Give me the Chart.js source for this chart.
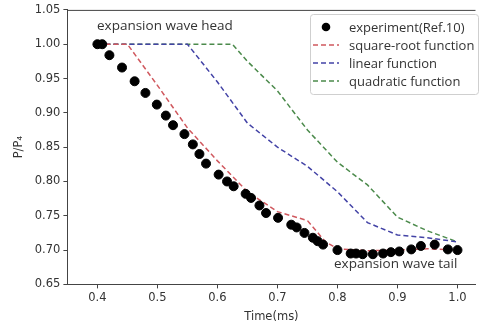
<!DOCTYPE html>
<html>
<head>
<meta charset="utf-8">
<script src="https://cdn.jsdelivr.net/npm/chart.js@4.4.0/dist/chart.umd.min.js"></script>
<style>
  html, body { margin: 0; padding: 0; background: #fff; }
  #wrap { width: 481px; height: 326px; }
</style>
</head>
<body>
<div id="wrap"><canvas id="canvas" width="481" height="326"></canvas></div>
<script>
'use strict';

// experiment(Ref.10)
let expTime = [0.400, 0.408, 0.420, 0.441, 0.462, 0.480, 0.499, 0.514, 0.526, 0.545,
  0.559, 0.570, 0.581, 0.602, 0.616, 0.627, 0.647, 0.656, 0.670, 0.681,
  0.701, 0.723, 0.732, 0.745, 0.759, 0.767, 0.776, 0.800, 0.822, 0.831,
  0.842, 0.859, 0.876, 0.889, 0.903, 0.923, 0.939, 0.962, 0.984, 1.000];
let expP = [1.000, 1.000, 0.984, 0.966, 0.946, 0.929, 0.912, 0.896, 0.882, 0.869,
  0.854, 0.840, 0.826, 0.810, 0.800, 0.793, 0.782, 0.776, 0.765, 0.754,
  0.747, 0.737, 0.733, 0.725, 0.718, 0.713, 0.708, 0.700, 0.695, 0.695,
  0.694, 0.694, 0.695, 0.697, 0.698, 0.701, 0.706, 0.708, 0.701, 0.700];

// square-root function
let sqrtTime = [0.40, 0.45, 0.50, 0.55, 0.60, 0.65, 0.70, 0.75, 0.78, 0.80, 0.85, 0.90, 0.95, 1.00];
let sqrtP = [1.000, 1.000, 0.940, 0.878, 0.830, 0.785, 0.756, 0.743, 0.712, 0.702, 0.699, 0.700, 0.702, 0.700];

// linear function
let linTime = [0.40, 0.55, 0.60, 0.65, 0.70, 0.75, 0.80, 0.85, 0.90, 0.95, 1.00];
let linP = [1.000, 1.000, 0.945, 0.885, 0.850, 0.822, 0.785, 0.740, 0.722, 0.718, 0.712];

// quadratic function
let quadTime = [0.40, 0.625, 0.65, 0.70, 0.75, 0.80, 0.85, 0.90, 0.95, 1.00];
let quadP = [1.000, 1.000, 0.975, 0.932, 0.875, 0.828, 0.795, 0.748, 0.728, 0.712];

let xTicks = [0.4, 0.5, 0.6, 0.7, 0.8, 0.9, 1.0];
let yTicks = [0.65, 0.70, 0.75, 0.80, 0.85, 0.90, 0.95, 1.00, 1.05];

let seriesNames = ['experiment(Ref.10)', 'square-root function', 'linear function', 'quadratic function'];
let seriesColors = ['#000000', '#d0585e', '#4343a6', '#4b8a4b'];

let canvas = document.getElementById('canvas');

function toPoints(xs, ys){
  return xs.map((x, i) => ({x: x, y: ys[i]}));
}

function lineSet(name, xs, ys, color){
  return {
    label: name,
    data: toPoints(xs, ys),
    showLine: true,
    borderColor: color,
    backgroundColor: color,
    borderWidth: 1.5,
    borderDash: [5, 3],
    pointRadius: 0,
    tension: 0
  };
}

// top frame line, notes and the boxed legend
let extras = {
  id: 'extras',
  afterDraw(chart){
    let ctx = chart.ctx;
    let area = chart.chartArea;
    ctx.save();
    ctx.strokeStyle = '#444';
    ctx.lineWidth = 1;
    ctx.beginPath();
    ctx.moveTo(area.left, area.top + 0.5);
    ctx.lineTo(area.right, area.top + 0.5);
    ctx.stroke();

    ctx.fillStyle = '#333';
    ctx.font = '13.5px "Open Sans"';
    ctx.textBaseline = 'alphabetic';
    ctx.fillText('expansion wave head', 97, 30);
    ctx.fillText('expansion wave tail', 334, 268);

    // legend box
    let bx = 310, by = 14, bw = 168, bh = 80;
    ctx.fillStyle = 'rgba(255,255,255,0.85)';
    ctx.strokeStyle = '#cfcfcf';
    ctx.beginPath();
    ctx.roundRect(bx + 0.5, by + 0.5, bw, bh, 3);
    ctx.fill();
    ctx.stroke();

    let rows = [27, 45, 63, 81];
    ctx.font = '13px "Open Sans"';
    ctx.textBaseline = 'middle';
    seriesNames.forEach((name, i) => {
      let y = rows[i];
      if (i === 0){
        ctx.fillStyle = seriesColors[0];
        ctx.beginPath();
        ctx.arc(326, y, 4.3, 0, Math.PI * 2);
        ctx.fill();
      } else {
        ctx.strokeStyle = seriesColors[i];
        ctx.lineWidth = 1.5;
        ctx.setLineDash([5, 3]);
        ctx.beginPath();
        ctx.moveTo(313, y);
        ctx.lineTo(339, y);
        ctx.stroke();
        ctx.setLineDash([]);
      }
      ctx.fillStyle = '#333';
      ctx.fillText(name, 349, y + 1);
    });
    ctx.restore();
  }
};

let chart = new Chart(canvas, {
  type: 'scatter',
  data: {
    datasets: [
      {
        label: seriesNames[0],
        data: toPoints(expTime, expP),
        backgroundColor: seriesColors[0],
        borderColor: seriesColors[0],
        pointRadius: 4.5,
        pointHoverRadius: 4.5
      },
      lineSet(seriesNames[1], sqrtTime, sqrtP, seriesColors[1]),
      lineSet(seriesNames[2], linTime, linP, seriesColors[2]),
      lineSet(seriesNames[3], quadTime, quadP, seriesColors[3])
    ]
  },
  options: {
    responsive: false,
    animation: false,
    layout: { padding: { top: 5, right: 0, bottom: 2, left: 12 } },
    plugins: {
      legend: { display: false },
      tooltip: { enabled: false }
    },
    scales: {
      x: {
        type: 'linear',
        min: 0.35,
        max: 1.03,
        afterBuildTicks: axis => { axis.ticks = xTicks.map(v => ({value: v})); },
        ticks: {
          color: '#333',
          font: { family: 'DejaVu Sans', size: 11.5 },
          padding: 3,
          callback: v => v.toFixed(1)
        },
        grid: { drawOnChartArea: false, tickLength: 4, color: '#444' },
        border: { color: '#444', width: 1 },
        title: {
          display: true,
          text: 'Time(ms)',
          color: '#333',
          font: { family: 'DejaVu Sans', size: 11.5 },
          padding: { top: 2, bottom: 0 }
        }
      },
      y: {
        min: 0.65,
        max: 1.05,
        afterBuildTicks: axis => { axis.ticks = yTicks.map(v => ({value: v})); },
        ticks: {
          color: '#333',
          font: { family: 'DejaVu Sans', size: 11.5 },
          padding: 3,
          callback: v => v.toFixed(2)
        },
        grid: { drawOnChartArea: false, tickLength: 4, color: '#444' },
        border: { color: '#444', width: 1 },
        title: {
          display: true,
          text: 'P/P₄',
          color: '#333',
          font: { family: 'DejaVu Sans', size: 11.5 },
          padding: { top: 0, bottom: 6 }
        }
      }
    }
  },
  plugins: [extras]
});
</script>
</body>
</html>
